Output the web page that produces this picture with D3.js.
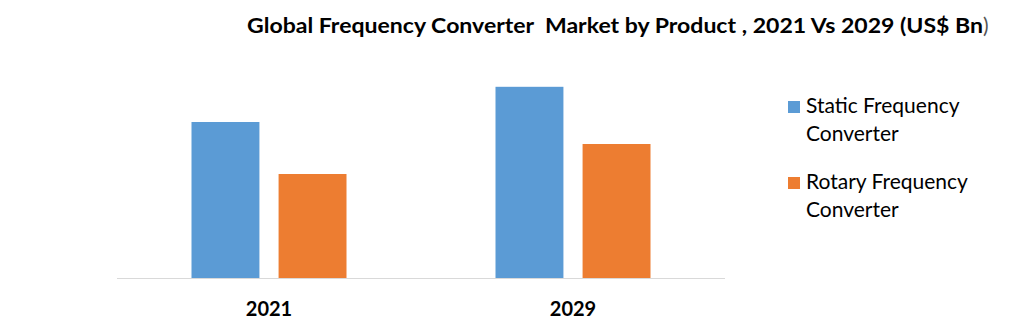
<!DOCTYPE html>
<html>
<head>
<meta charset="utf-8">
<script src="https://d3js.org/d3.v7.min.js"></script>
<style>
  body { margin: 0; background: #fff; }
  text { font-family: Lato, "Open Sans", sans-serif; fill: #000; white-space: pre; }
</style>
</head>
<body>
<script>
// chart data
var years = ["2021", "2029"];
var seriesNames = ["Static Frequency Converter", "Rotary Frequency Converter"];
var staticValues = [3.9, 4.78];
var rotaryValues = [2.6, 3.35];
var colors = ["#5b9bd5", "#ed7d31"];

var W = 1031, H = 322;
var svg = d3.select("body").append("svg").attr("width", W).attr("height", H);

var base = 278;
var x0 = d3.scaleBand().domain(years).range([117, 725]);
var bw = x0.bandwidth();
var x1 = d3.scaleBand().domain(seriesNames).range([bw / 2 - 77.5, bw / 2 + 77.5]).paddingInner(0.22);
var y = d3.scaleLinear().domain([0, 5]).range([base, base - 200]);

var rows = years.map(function (yr, i) {
  return { year: yr, vals: [staticValues[i], rotaryValues[i]] };
});

// title
svg.append("text")
  .attr("x", 247).attr("y", 33)
  .attr("font-size", 21).attr("font-weight", "bold")
  .attr("textLength", 736).attr("lengthAdjust", "spacingAndGlyphs")
  .text("Global Frequency Converter  Market by Product , 2021 Vs 2029 (US$ Bn");
svg.append("text")
  .attr("x", 983).attr("y", 33)
  .attr("font-size", 21)
  .style("fill", "#555")
  .text(")");

// bars
var g = svg.selectAll(".grp").data(rows).enter().append("g")
  .attr("transform", function (d) { return "translate(" + x0(d.year) + ",0)"; });
g.selectAll("rect").data(function (d) { return d.vals; }).enter().append("rect")
  .attr("x", function (d, i) { return x1(seriesNames[i]); })
  .attr("y", function (d) { return y(d); })
  .attr("width", x1.bandwidth())
  .attr("height", function (d) { return base - y(d); })
  .attr("fill", function (d, i) { return colors[i]; });

// baseline
svg.append("line")
  .attr("x1", 117).attr("x2", 725).attr("y1", base + 0.5).attr("y2", base + 0.5)
  .attr("stroke", "#d9d9d9").attr("stroke-width", 1);

// x labels
svg.selectAll(".xl").data(years).enter().append("text")
  .attr("x", function (d) { return x0(d) + bw / 2; })
  .attr("y", 316)
  .attr("text-anchor", "middle")
  .attr("font-size", 20).attr("font-weight", "bold")
  .text(function (d) { return d; });

// legend
var legY = [101, 177];
var leg = svg.selectAll(".leg").data(seriesNames).enter().append("g")
  .attr("transform", function (d, i) { return "translate(788," + legY[i] + ")"; });
leg.append("rect").attr("width", 12).attr("height", 12)
  .attr("fill", function (d, i) { return colors[i]; });
leg.append("text")
  .attr("x", 18).attr("y", 12)
  .attr("font-size", 21)
  .text(function (d) { return d.split(" ").slice(0, 2).join(" "); });
leg.append("text")
  .attr("x", 18).attr("y", 40)
  .attr("font-size", 21)
  .text(function (d) { return d.split(" ")[2]; });
</script>
</body>
</html>
